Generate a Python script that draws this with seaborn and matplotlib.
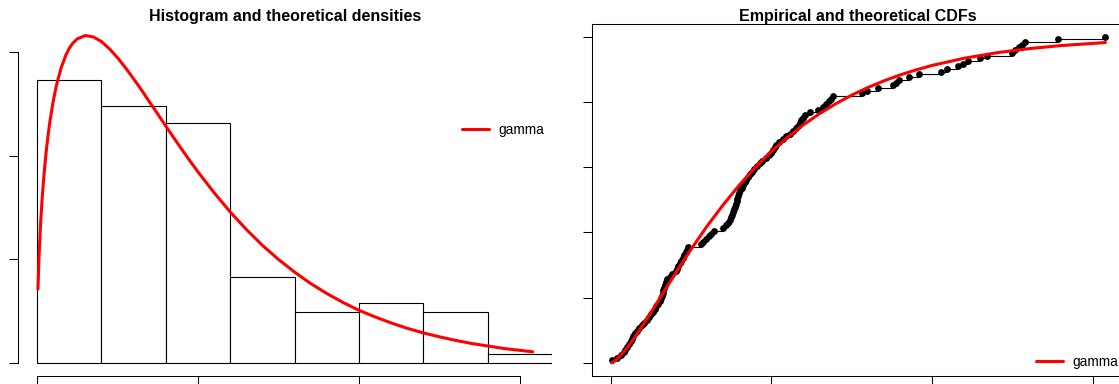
import numpy as np
import pandas as pd
import matplotlib
matplotlib.use("Agg")
import matplotlib.pyplot as plt
import seaborn as sns

sample = [
    0.03, 0.20, 0.33, 0.40, 0.45, 0.52, 0.58, 0.63, 0.66, 0.70, 0.75, 0.81,
    0.88, 0.97, 1.05, 1.13, 1.20, 1.26, 1.31, 1.37, 1.42, 1.47, 1.52, 1.56,
    1.59, 1.62, 1.64, 1.67, 1.69, 1.72, 1.76, 1.83, 1.92,
    2.02, 2.06, 2.10, 2.15, 2.20, 2.25, 2.29, 2.33, 2.37, 2.40, 2.80, 2.88,
    2.97, 3.05, 3.12, 3.20, 3.50, 3.60, 3.65, 3.70, 3.74, 3.77, 3.80, 3.83,
    3.86, 3.89, 3.92, 3.94, 3.96, 3.98,
    4.03, 4.07, 4.12, 4.17, 4.22, 4.28, 4.34, 4.40, 4.47, 4.55, 4.63, 4.72,
    4.82, 4.92, 5.00, 5.05, 5.10, 5.15, 5.25, 5.36, 5.46, 5.58, 5.68, 5.76,
    5.83, 5.88, 5.93, 5.97,
    6.05, 6.20, 6.45, 6.60, 6.70, 6.78, 6.85, 6.92, 7.82, 7.97,
    8.30, 8.78, 8.88, 8.97, 9.29, 9.59,
    10.28, 10.47, 10.80, 10.95, 11.10, 11.49, 11.70,
    12.48, 12.58, 12.71, 12.80, 12.89, 13.90,
    15.39,
]
bin_edges = [0, 2, 4, 6, 8, 10, 12, 14, 16]

# fitted gamma density
dens_x = [0.03, 0.05, 0.07, 0.1, 0.12, 0.15, 0.2, 0.27, 0.3, 0.35, 0.4, 0.5,
          0.6, 0.75, 0.9, 1.0, 1.1, 1.25, 1.5, 1.75, 2.0, 2.25, 2.5, 2.75,
          3.0, 3.25, 3.5, 3.75, 4.0, 4.25, 4.5, 4.75, 5.0, 5.5, 6.0, 6.5,
          7.0, 7.5, 8.0, 8.5, 9.0, 9.5, 10.0, 10.5, 11.0, 11.5, 12.0, 12.5,
          13.0, 13.5, 14.0, 14.5, 15.0, 15.39]
dens_y = [0.0357, 0.0458, 0.0540, 0.0639, 0.0696, 0.0771, 0.0877, 0.0997,
          0.1041, 0.1106, 0.1164, 0.1260, 0.1337, 0.1424, 0.1486, 0.1517,
          0.1540, 0.1563, 0.1579, 0.1572, 0.1550, 0.1515, 0.1472, 0.1423,
          0.1370, 0.1315, 0.1257, 0.1200, 0.1142, 0.1085, 0.1029, 0.0974,
          0.0921, 0.0821, 0.0728, 0.0644, 0.0567, 0.0499, 0.0438, 0.0383,
          0.0335, 0.0292, 0.0254, 0.0222, 0.0193, 0.0167, 0.0145, 0.0126,
          0.0109, 0.0094, 0.0082, 0.0070, 0.0061, 0.0054]

# fitted gamma CDF
cdf_x = [0.03, 0.1, 0.25, 0.5, 0.75, 1.0, 1.25, 1.5, 2.0, 2.5, 3.0, 3.5,
         4.0, 4.5, 5.0, 5.5, 6.0, 6.5, 7.0, 7.5, 8.0, 8.5, 9.0, 9.5, 10.0,
         11.0, 12.0, 13.0, 14.0, 15.39]
cdf_y = [0.0007, 0.0044, 0.0167, 0.0451, 0.0790, 0.1161, 0.1547, 0.1941,
         0.2728, 0.3485, 0.4198, 0.4849, 0.5452, 0.5995, 0.6486, 0.6915,
         0.7302, 0.7644, 0.7945, 0.8211, 0.8444, 0.8647, 0.8828, 0.8983,
         0.9120, 0.9341, 0.9507, 0.9633, 0.9728, 0.9821]

sns.set_style("ticks")
plt.rcParams['font.family'] = ['Liberation Sans', 'DejaVu Sans']
plt.rcParams['text.color'] = 'black'

fig = plt.figure(figsize=(11.19, 3.84), dpi=100)
ax1 = fig.add_axes([0.0161, 0.0208, 0.4772, 0.9159])
ax2 = fig.add_axes([0.5288, 0.0208, 0.4763, 0.9159])

# --- histogram and density ---
sns.histplot(x=sample, bins=bin_edges, stat="density", color="white",
             edgecolor="black", linewidth=0.8, alpha=1, ax=ax1)
sns.lineplot(x=dens_x, y=dens_y, color="red", linewidth=2.2, ax=ax1,
             label="gamma")
ax1.set_xlim(-0.59, 15.99)
ax1.set_ylim(-0.00627, 0.1633)
ax1.set_xticks([0, 5, 10, 15])
ax1.set_yticks([0, 0.05, 0.10, 0.15])
ax1.spines['top'].set_visible(False)
ax1.spines['right'].set_visible(False)
ax1.spines['left'].set_bounds(0, 0.15)
ax1.spines['bottom'].set_bounds(0, 15)
ax1.set_title("Histogram and theoretical densities", fontweight="bold",
              fontsize=11.5, pad=2, color="black")
ax1.legend(loc="center left", bbox_to_anchor=(0.4126, 0.6615),
           bbox_transform=fig.transFigure, frameon=False, fontsize=9.9,
           handlelength=1.95, handletextpad=0.75, borderpad=0,
           borderaxespad=0, labelcolor="black")

# --- empirical and theoretical CDFs ---
n = len(sample)
ecdf = pd.DataFrame({"x": sample, "F": np.arange(1, n + 1) / n})
ax2.hlines(ecdf["F"][:-1], ecdf["x"][:-1], ecdf["x"][1:], color="black",
           linewidth=0.8)
sns.scatterplot(data=ecdf, x="x", y="F", color="black", s=24, linewidth=0,
                ax=ax2, zorder=3)
sns.lineplot(x=cdf_x, y=cdf_y, color="red", linewidth=2.2, ax=ax2,
             label="gamma", zorder=4)
ax2.set_xlim(-0.59, 15.99)
ax2.set_ylim(-0.0398, 1.038)
ax2.set_xticks([0, 5, 10, 15])
ax2.set_yticks([0, 0.2, 0.4, 0.6, 0.8, 1.0])
ax2.set_title("Empirical and theoretical CDFs", fontweight="bold",
              fontsize=11.5, pad=2, color="black")
ax2.legend(loc="center left", bbox_to_anchor=(0.9256, 0.0582),
           bbox_transform=fig.transFigure, frameon=False, fontsize=9.9,
           handlelength=1.95, handletextpad=0.75, borderpad=0,
           borderaxespad=0, labelcolor="black")

for ax in (ax1, ax2):
    ax.set_xlabel("")
    ax.set_ylabel("")
    ax.tick_params(length=6.5, width=0.75, color="black",
                   labelbottom=False, labelleft=False)
    for sp in ax.spines.values():
        sp.set_linewidth(0.75)
        sp.set_color("black")

fig.savefig("out.png", dpi=100)
